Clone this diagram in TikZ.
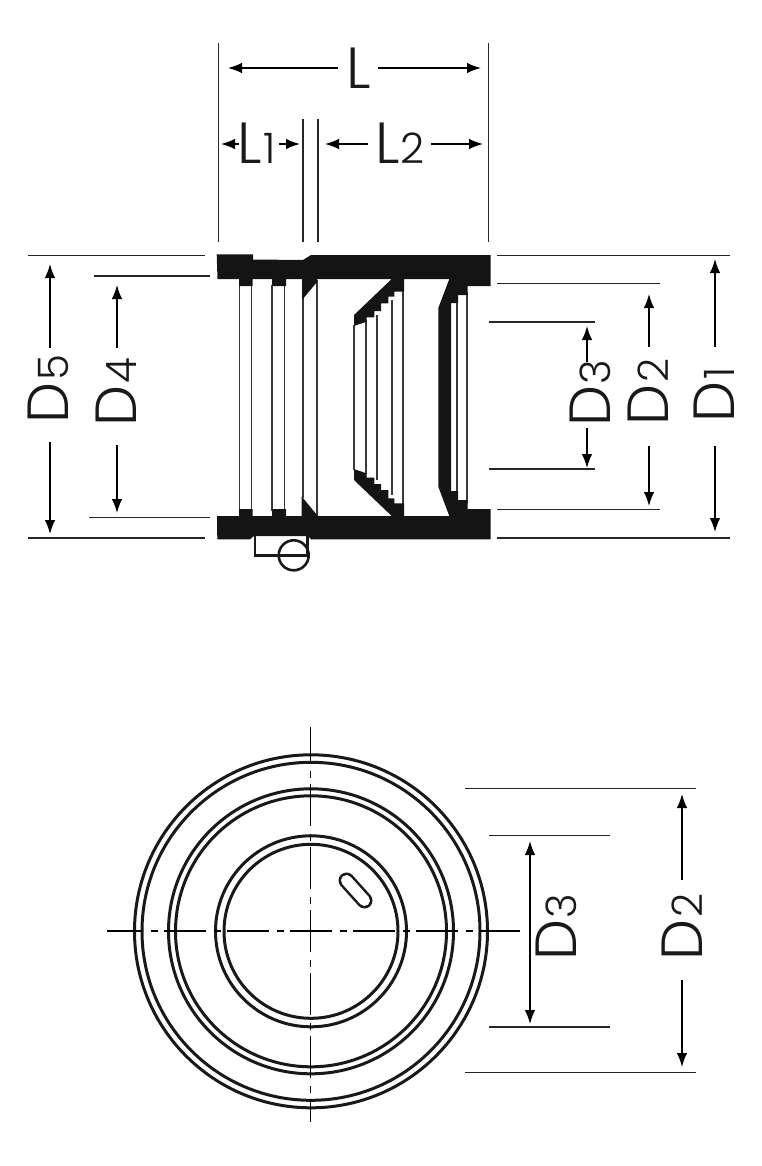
\documentclass[tikz,border=0pt]{standalone}
\usepackage{fontspec}
\setmainfont{Poppins Light}
\usetikzlibrary{arrows.meta}
\newcommand{\dl}[2]{{\fontsize{58}{58}\selectfont #1\kern1.5pt\fontsize{42}{42}\selectfont #2}}
\tikzset{
  dimline/.style={line width=1.4pt,black!85},
  dimarrow/.style={line width=1.5pt,-{Latex[length=14pt,width=10.5pt]}},
  solidblack/.style={fill=black!92,draw=none},
  web/.style={line width=1.8pt,draw=black!78},
  ring/.style={line width=3pt,draw=black!90},
  axis/.style={line width=1.5pt,dash pattern=on 42pt off 8pt on 7pt off 6pt,dash phase=6pt},
  dimtext/.style={inner sep=0pt,outer sep=0pt,text=black!90},
}
\begin{document}
\begin{tikzpicture}[x=1pt,y=-1pt]
\useasboundingbox (0,0) rectangle (761,1166);
% ---- section: webs
\foreach \xx/\ya/\yb in {239.5/285/511,251.5/285/511,272/285/511,284.5/285/511,303/298/498,317/280/516,354/325/470,366.3/320/474,377.3/315/480,392.3/300/495,403.3/290/505,457.3/300/496,467.3/292/503}
  \draw[web] (\xx,\ya) -- (\xx,\yb);
% ---- section: wall
\fill[solidblack] (216.7,254.3) -- (253,254.3) -- (253,259.5) -- (303,260) -- (311,255) -- (490.7,255) -- (490.7,286) -- (467.7,286) -- (467.7,295) -- (458,295) -- (458,303) -- (451,303)
  -- (451,491) -- (458,491) -- (458,500) -- (467.7,500) -- (467.7,509) -- (490.7,509) -- (490.7,539.3) -- (311,539.3) -- (308,536) -- (254,536) -- (250,539.3) -- (217.3,539.3) -- (217,516)
  -- (239,516) -- (239,509) -- (252.5,509) -- (252.5,516) -- (272,516) -- (272,509) -- (286,509) -- (286,516) -- (301.7,516) -- (301.7,496.5) -- (317,515) -- (317,516)
  -- (391.7,516) -- (354,480) -- (354,469) -- (366.7,473.5) -- (366.7,477.7) -- (374.3,477.7) -- (374.3,484) -- (381,484) -- (381,490) -- (388.3,490) -- (388.3,498.3) -- (394.3,498.3) -- (394.3,503.3) -- (404,503.3) -- (404,516)
  -- (449.3,516) -- (438.3,486.7) -- (438.3,308) -- (449.3,279) -- (404,279) -- (404,291.7) -- (394.3,291.7) -- (394.3,296.7) -- (388.3,296.7) -- (388.3,303.3) -- (381,303.3) -- (381,311) -- (374.3,311) -- (374.3,317.3) -- (366.7,317.3) -- (366.7,321.7) -- (354,326) -- (354,315) -- (391.7,279)
  -- (317,279) -- (317,282) -- (302,300) -- (302,279) -- (286,279) -- (286,286) -- (272,286) -- (272,279) -- (252.7,279) -- (252.7,286) -- (239,286) -- (239,279) -- (217.5,279) -- cycle;
% ---- weld symbol
\coordinate (wa) at (254.8,536);
\coordinate (wb) at (254.8,555.3);
\coordinate (wc) at (307.5,555.3);
\coordinate (wd) at (307.5,536);
\draw[line width=2.4pt,black!90] (wa) -- (wb) -- (wc) -- (wd);
\node[circle,draw=black!90,line width=2.6pt,minimum size=30pt,inner sep=0pt] (wcircle) at (293.7,555.3) {};
% ---- end view
\foreach \rr in {176.5,169,142.5,135.5,95.5,87}
  \draw[ring] (311,931.3) circle[radius=\rr];
\coordinate (sa) at (346.5,880.5);
\coordinate (sb) at (364.5,900.5);
\draw[line width=16pt,line cap=round,black!90] (sa) -- (sb);
\draw[line width=11pt,line cap=round,white] (sa) -- (sb);
\coordinate (va) at (310.7,727);
\coordinate (vb) at (310.7,1122);
\coordinate (ha) at (107,931);
\coordinate (hb) at (520,931);
\draw[axis] (va) -- (vb);
\draw[axis] (ha) -- (hb);
% ---- extension lines
\foreach \xa/\ya/\xb/\yb in {218.5/43/218.5/242,488.5/43/488.5/242,303/119/303/242,318/119/318/242,
  28/255.5/205/255.5,94/276/210/276,89/517.5/210/517.5,28/538/205/538,
  497/255.5/730/255.5,497/283.5/660/283.5,489/322/595/322,489/469/595/469,497/509.5/660/509.5,497/538/730/538,
  465/788.5/696/788.5,489/835.5/610/835.5,489/1027/610/1027,465/1072.5/696/1072.5}
  \draw[dimline] (\xa,\ya) -- (\xb,\yb);
% ---- labels
\node[dimtext] (L) at (359,68) {\dl{L}{}};
\node[dimtext] (La) at (257,143) {\dl{L}{1}};
\node[dimtext] (Lb) at (400,143) {\dl{L}{2}};
\node[dimtext,rotate=90] (Dfive) at (48,389) {\dl{D}{5}};
\node[dimtext,rotate=90] (Dfour) at (116,392) {\dl{D}{4}};
\node[dimtext,rotate=90] (Dthree) at (590,393) {\dl{D}{3}};
\node[dimtext,rotate=90] (Dtwo) at (648,392) {\dl{D}{2}};
\node[dimtext,rotate=90] (Done) at (714,395) {\dl{D}{1}};
\node[dimtext,rotate=90] (Dthreeb) at (556,927) {\dl{D}{3}};
\node[dimtext,rotate=90] (Dtwob) at (682,927) {\dl{D}{2}};
% ---- dimension arrows
\foreach \xa/\ya/\xb/\yb in {338/68/228/68,378/68/481/68,
  239/144/221/144,279/144/300/144,368/144/325/144,431/144/483/144,
  50/348/50/264,50/442/50/534,117/348/117/285,117/445/117/513,
  587/362/587/326,587/428/587/468,649/347/649/294,649/446/649/506,715/347/715/259,715/446/715/532,
  682/880/682/794,682/980/682/1067}
  \draw[dimarrow] (\xa,\ya) -- (\xb,\yb);
\draw[dimarrow,{Latex[length=14pt,width=10.5pt]}-{Latex[length=14pt,width=10.5pt]}] (530,841) -- (530,1024);
\end{tikzpicture}
\end{document}
